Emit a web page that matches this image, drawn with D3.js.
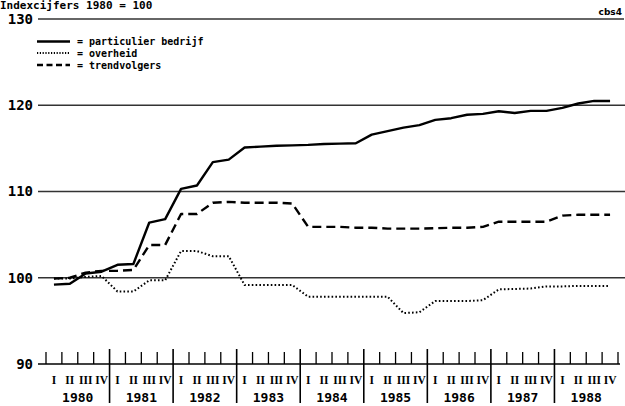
<!DOCTYPE html>
<html>
<head>
<meta charset="utf-8">
<script src="https://cdn.jsdelivr.net/npm/d3@7"></script>
<style>
  body { margin: 0; background: #fff; }
  svg { display: block; }
  text { fill: #000; }
</style>
</head>
<body>
<svg id="cbs-chart"></svg>
<script>
const years = ["1980", "1981", "1982", "1983", "1984", "1985", "1986", "1987", "1988"];
const quarterLabels = ["I", "II", "III", "IV"];
const yTicks = [90, 100, 110, 120, 130];

const particulier = [99.2, 99.3, 100.5, 100.7, 101.5, 101.6, 106.4, 106.8,
    110.3, 110.7, 113.4, 113.7, 115.1, 115.2, 115.3, 115.35, 115.4, 115.5,
    115.55, 115.6, 116.6, 117.0, 117.4, 117.7, 118.3, 118.5, 118.9, 119.0,
    119.3, 119.1, 119.35, 119.35, 119.7, 120.2, 120.5, 120.5];

const overheid = [99.9, 99.9, 100.1, 100.2, 98.4, 98.4, 99.7, 99.7,
    103.1, 103.1, 102.5, 102.5, 99.15, 99.15, 99.15, 99.15, 97.8, 97.8,
    97.8, 97.8, 97.8, 97.8, 95.9, 96.0, 97.3, 97.3, 97.3, 97.4,
    98.65, 98.7, 98.75, 99.0, 99.0, 99.05, 99.05, 99.05];

const trendvolgers = [99.9, 100.0, 100.6, 100.8, 100.8, 100.9, 103.8, 103.8,
    107.4, 107.4, 108.7, 108.8, 108.7, 108.7, 108.7, 108.6, 105.9, 105.9,
    105.9, 105.8, 105.8, 105.7, 105.7, 105.7, 105.75, 105.8, 105.8, 105.9,
    106.5, 106.5, 106.5, 106.5, 107.2, 107.3, 107.3, 107.3];

const seriesNames = ["particulier bedrijf", "overheid", "trendvolgers"];

let W = 625, H = 406;
let svg = d3.select("#cbs-chart")
    .attr("width", W)
    .attr("height", H);

const mono = "'DejaVu Sans Mono', 'Liberation Mono', monospace";

// every quarter as a category
let quarters = [];
years.forEach(yr => quarterLabels.forEach(q => quarters.push(yr + "-" + q)));

let x = d3.scaleBand()
    .domain(quarters)
    .range([46, 618])
    .padding(0);

let y = d3.scaleLinear()
    .domain([90, 130])
    .range([364, 19]);

let xc = i => x(quarters[i]) + x.bandwidth() / 2;

// title at the very top
svg.append("text")
    .attr("x", 0)
    .attr("y", 9)
    .style("font-family", mono)
    .style("font-size", "11px")
    .style("font-weight", "bold")
    .text("Indexcijfers 1980 = 100");

svg.append("text")
    .attr("x", 622)
    .attr("y", 15)
    .attr("text-anchor", "end")
    .style("font-family", "'DejaVu Sans', sans-serif")
    .style("font-size", "9px")
    .style("font-weight", "bold")
    .text("cbs4");

// gridlines
svg.append("g")
    .selectAll("line")
    .data(yTicks.filter(d => d > 90))
    .join("line")
    .attr("x1", 38)
    .attr("x2", d => d === 130 ? 624 : 625)
    .attr("y1", d => y(d))
    .attr("y2", d => y(d))
    .style("stroke", "#333")
    .style("stroke-width", "1.4px");

// y labels
svg.append("g")
    .selectAll("text")
    .data(yTicks)
    .join("text")
    .attr("x", 33)
    .attr("y", d => y(d))
    .attr("dy", "0.35em")
    .attr("text-anchor", "end")
    .style("font-family", mono)
    .style("font-size", "14px")
    .style("font-weight", "bold")
    .text(d => d);

// bottom axis line at 90
svg.append("line")
    .attr("x1", 38)
    .attr("x2", 620)
    .attr("y1", y(90))
    .attr("y2", y(90))
    .style("stroke", "#000")
    .style("stroke-width", "1.5px");

// quarter ticks on the boundaries
let bounds = quarters.map(q => x(q)).concat([x.range()[1]]);
let isYear = i => i % 4 === 0 && i > 0 && i < 36;
svg.append("g")
    .selectAll("line")
    .data(bounds)
    .join("line")
    .attr("x1", d => d)
    .attr("x2", d => d)
    .attr("y1", (d, i) => isYear(i) ? 349 : 352)
    .attr("y2", (d, i) => isYear(i) ? 403 : y(90))
    .style("stroke", "#000")
    .style("stroke-width", (d, i) => isYear(i) ? "1.6px" : "1.3px");

// quarter labels
svg.append("g")
    .selectAll("text")
    .data(quarters)
    .join("text")
    .attr("x", (d, i) => xc(i))
    .attr("y", 384)
    .attr("text-anchor", "middle")
    .style("font-family", "'Liberation Serif', 'DejaVu Serif', serif")
    .style("font-size", "11.5px")
    .style("font-weight", "bold")
    .text((d, i) => quarterLabels[i % 4]);

// year labels
svg.append("g")
    .selectAll("text")
    .data(years)
    .join("text")
    .attr("x", (d, i) => x(d + "-I") + x.bandwidth() * 2)
    .attr("y", 402)
    .attr("text-anchor", "middle")
    .style("font-family", mono)
    .style("font-size", "13px")
    .style("font-weight", "bold")
    .text(d => d);

// lines
let styles = [
    {data: particulier, width: 2.4, dash: null, legendDash: null},
    {data: overheid, width: 2, dash: "1.6,2.2", legendDash: "1.2,1.6"},
    {data: trendvolgers, width: 2.4, dash: "9,5", legendDash: "6,3.5"}
];

let line = d3.line()
    .x((d, i) => xc(i))
    .y(d => y(d));

styles.forEach(s => {
    svg.append("path")
        .datum(s.data)
        .attr("d", line)
        .style("fill", "none")
        .style("stroke", "#000")
        .style("stroke-width", s.width + "px")
        .style("stroke-linejoin", "round")
        .style("stroke-dasharray", s.dash);
});

// legend
let legend = svg.append("g");
let legendY = [41.5, 53, 65];
styles.forEach((s, i) => {
    legend.append("line")
        .attr("x1", 37)
        .attr("x2", 70)
        .attr("y1", legendY[i])
        .attr("y2", legendY[i])
        .style("stroke", "#000")
        .style("stroke-width", s.width + "px")
        .style("stroke-dasharray", s.legendDash);
    legend.append("text")
        .attr("x", 77)
        .attr("y", legendY[i])
        .attr("dy", "0.35em")
        .style("font-family", mono)
        .style("font-size", "10px")
        .style("font-weight", "bold")
        .text("= " + seriesNames[i]);
});
</script>
</body>
</html>
